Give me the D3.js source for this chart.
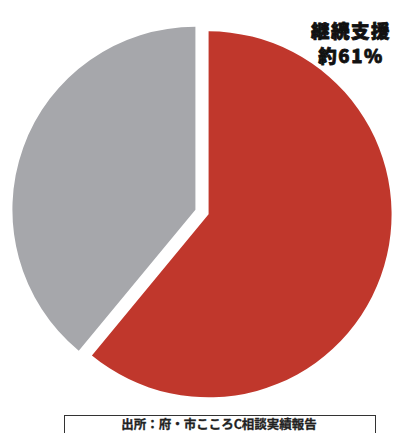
<!DOCTYPE html>
<html lang="ja">
<head>
  <meta charset="utf-8">
  <title>継続支援の割合</title>
  <style>
    body { margin: 0; background: #fff; }
    svg { display: block; }
    .lbl { font-family: "Noto Sans CJK JP", sans-serif; font-weight: 900; }
    .src { font-family: "Noto Sans CJK JP", sans-serif; font-weight: 700; fill: #222; }
  </style>
  <script src="https://d3js.org/d3.v7.min.js"></script>
</head>
<body>
<script>
  // data
  let categories = ["継続支援", "その他"]
  let values = [61, 39]
  let colors = ["#c0372c", "#a6a7ab"]
  let labelLines = ["継続支援", "約61%"]
  let sourceText = "出所：府・市こころC相談実績報告"

  let width = 393
  let height = 433
  let cx = 202
  let cy = 212
  let radius = 183
  let explode = 7

  let svg = d3.select("body").append("svg")
              .attr("width", width)
              .attr("height", height)

  let pie = d3.pie().sort(null).value(d => d.value)
  let arc = d3.arc().innerRadius(0).outerRadius(radius)

  let slices = pie(categories.map((c, i) => ({ name: c, value: values[i] })))

  svg.append("g")
     .attr("transform", `translate(${cx},${cy})`)
     .selectAll("path")
     .data(slices)
     .enter()
     .append("path")
     .attr("d", arc)
     .attr("fill", (d, i) => colors[i])
     .attr("transform", d => {
        let a = (d.startAngle + d.endAngle) / 2
        return `translate(${explode * Math.sin(a)},${-explode * Math.cos(a)})`
     })

  // label top right: white halo, then heavy black text
  let drawLabel = (fill, stroke, sw) => {
    let t = svg.append("text")
               .attr("class", "lbl")
               .attr("text-anchor", "middle")
               .attr("font-size", 18.5)
               .attr("letter-spacing", 1.5)
               .attr("fill", fill)
               .attr("stroke", stroke)
               .attr("stroke-width", sw)
               .attr("stroke-linejoin", "round")
    t.selectAll("tspan")
     .data(labelLines)
     .enter()
     .append("tspan")
     .attr("x", 351)
     .attr("y", (d, i) => 38 + i * 25)
     .text(d => d)
  }
  drawLabel("#fff", "#fff", 4)
  drawLabel("#111", "#111", 0.8)

  // source box
  svg.append("rect")
     .attr("x", 64.5)
     .attr("y", 415.5)
     .attr("width", 311)
     .attr("height", 30)
     .attr("fill", "#fff")
     .attr("stroke", "#333")
     .attr("stroke-width", 1)

  svg.append("text")
     .attr("class", "src")
     .attr("x", 219)
     .attr("y", 429)
     .attr("text-anchor", "middle")
     .attr("font-size", 12.5)
     .attr("stroke", "#222")
     .attr("stroke-width", 0.3)
     .text(sourceText)
</script>
</body>
</html>
